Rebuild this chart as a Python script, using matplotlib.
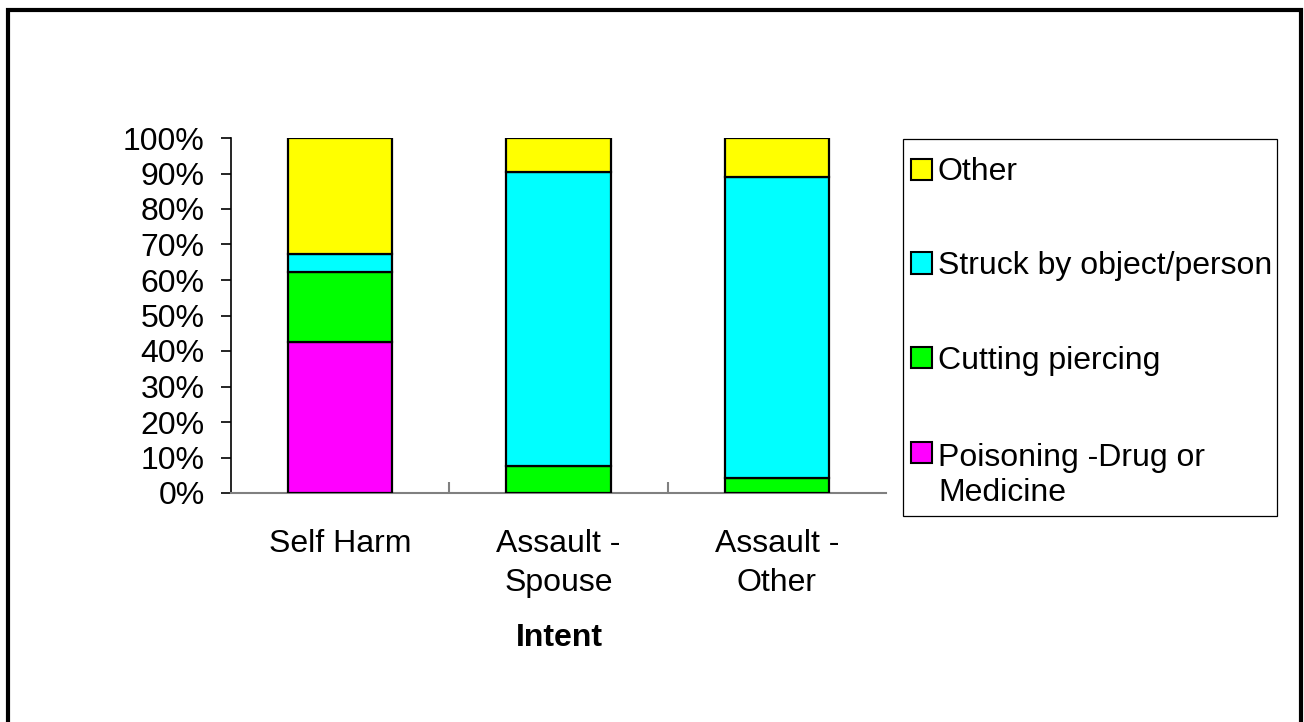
import matplotlib
matplotlib.use("Agg")
import matplotlib.pyplot as plt
from matplotlib.patches import Rectangle
import numpy as np

# Share of injuries by mechanism within each intent group (%)
categories = ["Self Harm", "Assault -\nSpouse", "Assault -\nOther"]
poisoning = [42.6, 0.0, 0.0]
cutting = [19.7, 7.5, 4.1]
struck = [4.9, 82.8, 85.0]
other = [32.8, 9.7, 10.9]

series_values = [poisoning, cutting, struck, other]
series_labels = ["Poisoning -Drug or\nMedicine", "Cutting piercing",
                 "Struck by object/person", "Other"]
series_colors = ["#FF00FF", "#00FF00", "#00FFFF", "#FFFF00"]

ytick_values = [0, 10, 20, 30, 40, 50, 60, 70, 80, 90, 100]
ytick_labels = [f"{v}%" for v in ytick_values]
x_title = "Intent"

W, H = 1304, 722
FS = 23
plt.rcParams["font.family"] = ["Liberation Sans", "DejaVu Sans"]

fig = plt.figure(figsize=(W / 100, H / 100), dpi=100)
fig.patch.set_facecolor("white")


def fx(px):
    return px / W


def fy(py):
    return 1 - py / H


# Chart border
fig.add_artist(Rectangle((fx(8), fy(740)), fx(1301) - fx(8), fy(9.5) - fy(740),
                         transform=fig.transFigure, fill=False,
                         edgecolor="black", linewidth=3, clip_on=False))

ax = fig.add_axes([fx(231), fy(493), fx(886) - fx(231), fy(138) - fy(493)])
x = np.arange(len(categories))
bottom = np.zeros(len(categories))
for vals, col in zip(series_values, series_colors):
    vals = np.asarray(vals, dtype=float)
    ax.bar(x, vals, width=0.477, bottom=bottom, color=col,
           edgecolor="black", linewidth=1.6, zorder=3)
    bottom += vals

ax.set_xlim(-0.5, len(categories) - 0.5)
ax.set_ylim(0, 100)

ax.set_yticks(ytick_values)
ax.set_yticklabels(ytick_labels, fontsize=FS)
ax.tick_params(axis="y", direction="out", length=7, width=1.2, pad=12,
               colors="black")

# category separators between groups
ax.set_xticks(np.arange(1, len(categories)) - 0.5)
ax.set_xticklabels([])
ax.tick_params(axis="x", which="major", direction="in", length=8, width=1.5,
               color="#808080")
ax.set_xticks(x, minor=True)
ax.set_xticklabels(categories, minor=True, fontsize=FS, linespacing=1.4)
ax.tick_params(axis="x", which="minor", length=0, pad=26)

for s in ("top", "right"):
    ax.spines[s].set_visible(False)
ax.spines["left"].set_color("black")
ax.spines["left"].set_linewidth(1.2)
ax.spines["bottom"].set_color("#808080")
ax.spines["bottom"].set_linewidth(1.5)
ax.set_facecolor("none")

fig.text(fx(559), fy(646), x_title, fontsize=FS, fontweight="bold",
         ha="center", va="baseline")

# Legend box, listed top-down in reverse stacking order
fig.add_artist(Rectangle((fx(902.5), fy(516)), fx(1277) - fx(902.5),
                         fy(139) - fy(516), transform=fig.transFigure,
                         fill=False, edgecolor="black", linewidth=0.9))
centers = [452, 358, 263, 169]
for lab, col, cy in zip(series_labels, series_colors, centers):
    fig.add_artist(Rectangle((fx(910.5), fy(cy + 10.5)), fx(21), 21 / H,
                             transform=fig.transFigure, facecolor=col,
                             edgecolor="black", linewidth=1.5))
    n_lines = lab.count("\n") + 1
    ty = cy + 3 + (n_lines - 1) * (35 / 2 + 3)
    fig.text(fx(938), fy(ty), lab, fontsize=FS, ha="left", va="center",
             linespacing=1.2)

fig.savefig("out.png", dpi=100, facecolor="white")
